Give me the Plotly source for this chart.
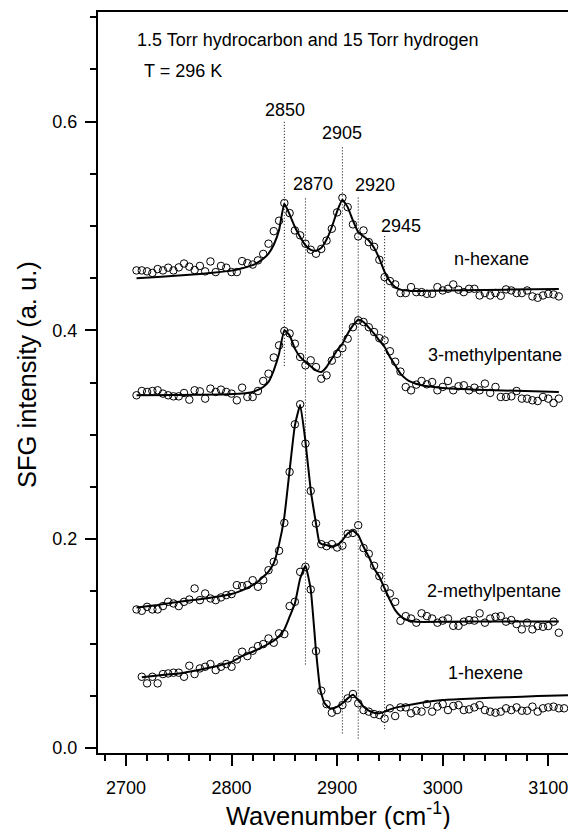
import plotly.graph_objects as go

# Sampled wavenumbers (cm^-1); 1-hexene is offset by one step
wavenumber = [2710, 2715, 2720, 2725, 2730, 2735, 2740, 2745, 2750, 2755,
              2760, 2765, 2770, 2775, 2780, 2785, 2790, 2795, 2800, 2805,
              2810, 2815, 2820, 2825, 2830, 2835, 2840, 2845, 2850, 2855,
              2860, 2865, 2870, 2875, 2880, 2885, 2890, 2895, 2900, 2905,
              2910, 2915, 2920, 2925, 2930, 2935, 2940, 2945, 2950, 2955,
              2960, 2965, 2970, 2975, 2980, 2985, 2990, 2995, 3000, 3005,
              3010, 3015, 3020, 3025, 3030, 3035, 3040, 3045, 3050, 3055,
              3060, 3065, 3070, 3075, 3080, 3085, 3090, 3095, 3100, 3105,
              3110, 3115]

nhexane_y = [0.4574, 0.4574, 0.4565, 0.4550, 0.4587, 0.4574, 0.4600, 0.4574, 0.4603, 0.4640,
             0.4610, 0.4578, 0.4617, 0.4565, 0.4660, 0.4558, 0.4617, 0.4600, 0.4558, 0.4558,
             0.4663, 0.4644, 0.4630, 0.4670, 0.4732, 0.4830, 0.4950, 0.5050, 0.5219, 0.5123,
             0.4957, 0.4910, 0.4830, 0.4772, 0.4734, 0.4780, 0.4860, 0.4973, 0.5130, 0.5270,
             0.5180, 0.5015, 0.4900, 0.4957, 0.4845, 0.4800, 0.4676, 0.4510, 0.4472, 0.4440,
             0.4357, 0.4357, 0.4414, 0.4366, 0.4366, 0.4350, 0.4350, 0.4414, 0.4382, 0.4398,
             0.4440, 0.4389, 0.4366, 0.4398, 0.4398, 0.4334, 0.4357, 0.4334, 0.4357, 0.4331,
             0.4392, 0.4382, 0.4357, 0.4357, 0.4382, 0.4325, 0.4312, 0.4334, 0.4350, 0.4344,
             0.4325]

methylpentane3_y = [0.3378, 0.3419, 0.3410, 0.3419, 0.3426, 0.3394, 0.3378, 0.3368, 0.3368, 0.3400,
                    0.3336, 0.3426, 0.3416, 0.3346, 0.3442, 0.3410, 0.3432, 0.3410, 0.3394, 0.3330,
                    0.3451, 0.3362, 0.3362, 0.3419, 0.3515, 0.3585, 0.3740, 0.3856, 0.3994, 0.3970,
                    0.3872, 0.3745, 0.3665, 0.3713, 0.3649, 0.3537, 0.3569, 0.3710, 0.3775, 0.3830,
                    0.3920, 0.4030, 0.4096, 0.4080, 0.4030, 0.3984, 0.3925, 0.3904, 0.3800, 0.3700,
                    0.3605, 0.3457, 0.3425, 0.3480, 0.3515, 0.3483, 0.3505, 0.3426, 0.3458, 0.3515,
                    0.3426, 0.3464, 0.3474, 0.3426, 0.3451, 0.3426, 0.3490, 0.3401, 0.3458, 0.3362,
                    0.3362, 0.3368, 0.3419, 0.3346, 0.3346, 0.3330, 0.3323, 0.3362, 0.3346, 0.3304,
                    0.3346]

methylpentane2_y = [0.1327, 0.1314, 0.1352, 0.1327, 0.1327, 0.1359, 0.1400, 0.1384, 0.1359, 0.1400,
                    0.1422, 0.1528, 0.1416, 0.1480, 0.1432, 0.1416, 0.1442, 0.1464, 0.1474, 0.1560,
                    0.1550, 0.1560, 0.1607, 0.1544, 0.1607, 0.1703, 0.1783, 0.1889, 0.2156, 0.2644,
                    0.3100, 0.3292, 0.2915, 0.2462, 0.2150, 0.1952, 0.1933, 0.1952, 0.1920, 0.1938,
                    0.2052, 0.2060, 0.2134, 0.1915, 0.1860, 0.1745, 0.1646, 0.1533, 0.1480, 0.1400,
                    0.1218, 0.1263, 0.1240, 0.1200, 0.1290, 0.1263, 0.1240, 0.1200, 0.1220, 0.1240,
                    0.1170, 0.1170, 0.1210, 0.1225, 0.1220, 0.1290, 0.1200, 0.1240, 0.1257, 0.1263,
                    0.1210, 0.1225, 0.1187, 0.1136, 0.1200, 0.1136, 0.1168, 0.1161, 0.1168, 0.1210,
                    0.1104]

hexene1_y = [0.0682, 0.0619, 0.0682, 0.0619, 0.0708, 0.0714, 0.0721, 0.0721, 0.0682, 0.0788,
             0.0708, 0.0762, 0.0778, 0.0804, 0.0746, 0.0778, 0.0804, 0.0778, 0.0848, 0.0922,
             0.0880, 0.0931, 0.0976, 0.0995, 0.1049, 0.1008, 0.1098, 0.1091, 0.1359, 0.1400,
             0.1687, 0.1735, 0.1518, 0.0928, 0.0548, 0.0420, 0.0338, 0.0363, 0.0411, 0.0475,
             0.0517, 0.0428, 0.0363, 0.0348, 0.0325, 0.0316, 0.0281, 0.0380, 0.0306, 0.0389,
             0.0389, 0.0332, 0.0357, 0.0348, 0.0420, 0.0348, 0.0396, 0.0420, 0.0363, 0.0402,
             0.0411, 0.0363, 0.0370, 0.0389, 0.0411, 0.0363, 0.0348, 0.0338, 0.0348, 0.0380,
             0.0363, 0.0389, 0.0357, 0.0357, 0.0396, 0.0348, 0.0380, 0.0389, 0.0396, 0.0380,
             0.0380]

# Fitted curves
nhexane_fit_x = [2710, 2730, 2750, 2770, 2790, 2800, 2810, 2820, 2825, 2830, 2835, 2840, 2845,
                 2850, 2855, 2860, 2865, 2870, 2875, 2880, 2885, 2890, 2895, 2900, 2905, 2910,
                 2915, 2920, 2925, 2930, 2935, 2940, 2945, 2950, 2955, 2960, 2970, 2990, 3020,
                 3060, 3110]
nhexane_fit_y = [0.4500, 0.4512, 0.4525, 0.4540, 0.4560, 0.4572, 0.4595, 0.4625, 0.4650, 0.4685,
                 0.4735, 0.4820, 0.4960, 0.5215, 0.5110, 0.4990, 0.4895, 0.4815, 0.4770, 0.4760,
                 0.4790, 0.4870, 0.4990, 0.5140, 0.5250, 0.5180, 0.5050, 0.4940, 0.4900, 0.4861,
                 0.4790, 0.4687, 0.4559, 0.4470, 0.4414, 0.4390, 0.4378, 0.4380, 0.4385, 0.4390,
                 0.4395]

methylpentane3_fit_x = [2710, 2750, 2790, 2810, 2820, 2825, 2830, 2835, 2840, 2845, 2850, 2855,
                        2860, 2865, 2870, 2875, 2880, 2885, 2890, 2895, 2900, 2905, 2910, 2915,
                        2920, 2925, 2930, 2935, 2940, 2945, 2950, 2955, 2960, 2965, 2970, 2980,
                        3000, 3050, 3110]
methylpentane3_fit_y = [0.3378, 0.3380, 0.3385, 0.3395, 0.3410, 0.3430, 0.3458, 0.3506, 0.3617,
                        0.3777, 0.4000, 0.3952, 0.3825, 0.3745, 0.3697, 0.3656, 0.3617, 0.3601,
                        0.3649, 0.3728, 0.3809, 0.3872, 0.3968, 0.4048, 0.4102, 0.4080, 0.4026,
                        0.3968, 0.3904, 0.3841, 0.3745, 0.3665, 0.3585, 0.3537, 0.3506, 0.3474,
                        0.3449, 0.3426, 0.3410]

methylpentane2_fit_x = [2710, 2730, 2750, 2770, 2790, 2800, 2810, 2820, 2825, 2830, 2835, 2840,
                        2845, 2850, 2855, 2860, 2865, 2870, 2875, 2880, 2883, 2885, 2890, 2895,
                        2900, 2905, 2910, 2915, 2920, 2925, 2930, 2935, 2940, 2945, 2950, 2955,
                        2960, 2965, 2975, 3000, 3050, 3110]
methylpentane2_fit_y = [0.1345, 0.1370, 0.1400, 0.1425, 0.1455, 0.1475, 0.1510, 0.1560, 0.1595,
                        0.1640, 0.1690, 0.1770, 0.1950, 0.2214, 0.2660, 0.3090, 0.3285, 0.2935,
                        0.2470, 0.2150, 0.1975, 0.1955, 0.1943, 0.1933, 0.1943, 0.1990, 0.2054,
                        0.2080, 0.2038, 0.1927, 0.1831, 0.1719, 0.1640, 0.1528, 0.1416, 0.1320,
                        0.1263, 0.1231, 0.1209, 0.1209, 0.1212, 0.1212]

hexene1_fit_x = [2715, 2730, 2750, 2770, 2790, 2800, 2810, 2820, 2830, 2840, 2845, 2850, 2855,
                 2860, 2865, 2870, 2875, 2880, 2884, 2888, 2893, 2898, 2905, 2910, 2915, 2920,
                 2925, 2930, 2935, 2940, 2945, 2950, 2960, 2980, 3000, 3030, 3060, 3090, 3125]
hexene1_fit_y = [0.0677, 0.0695, 0.0714, 0.0750, 0.0794, 0.0825, 0.0880, 0.0922, 0.0970, 0.1027,
                 0.1070, 0.1135, 0.1257, 0.1384, 0.1624, 0.1745, 0.1520, 0.0930, 0.0560, 0.0430,
                 0.0380, 0.0385, 0.0428, 0.0475, 0.0510, 0.0460, 0.0396, 0.0357, 0.0338, 0.0332,
                 0.0348, 0.0370, 0.0396, 0.0434, 0.0460, 0.0475, 0.0485, 0.0498, 0.0507]

# Marked vibrational modes (dotted guides) and their label anchors
peak_positions = [2850, 2870, 2905, 2920, 2945]
peak_line_top = [0.600, 0.528, 0.576, 0.529, 0.491]
peak_line_bottom = [0.366, 0.080, 0.014, 0.009, 0.018]
peak_label_x = [2851, 2877, 2904.6, 2935.6, 2960.4]
peak_label_y = [0.611, 0.540, 0.589, 0.539, 0.500]

series_names = ["n-hexane", "3-methylpentane", "2-methylpentane", "1-hexene"]
series_label_x = [3046.5, 3049.6, 3048.2, 3040.9]
series_label_y = [0.468, 0.376, 0.150, 0.0718]

FONT = "Liberation Sans, Arial, Helvetica, sans-serif"

fig = go.Figure()

# dotted guide lines
for wn, top, bottom in zip(peak_positions, peak_line_top, peak_line_bottom):
    fig.add_trace(go.Scatter(
        x=[wn, wn], y=[bottom, top], mode="lines",
        line=dict(color="black", width=1, dash="1px,2px"),
        showlegend=False, hoverinfo="skip"))

series = [
    (wavenumber[:81], nhexane_y, nhexane_fit_x, nhexane_fit_y),
    (wavenumber[:81], methylpentane3_y, methylpentane3_fit_x, methylpentane3_fit_y),
    (wavenumber[:81], methylpentane2_y, methylpentane2_fit_x, methylpentane2_fit_y),
    (wavenumber[1:], hexene1_y, hexene1_fit_x, hexene1_fit_y),
]

for (xs, ys, fx, fy), name in zip(series, series_names):
    fig.add_trace(go.Scatter(
        x=xs, y=ys, mode="markers", name=name,
        marker=dict(symbol="circle-open", size=7.5, color="black",
                    line=dict(width=1, color="black")),
        showlegend=False))
    fig.add_trace(go.Scatter(
        x=fx, y=fy, mode="lines", name=name + " fit",
        line=dict(color="black", width=2, shape="spline", smoothing=0.4),
        showlegend=False))

LABEL_SIZE = 18
annotations = []
for wn, lx, ly in zip(peak_positions, peak_label_x, peak_label_y):
    annotations.append(dict(x=lx, y=ly, xref="x", yref="y", text=str(wn),
                            showarrow=False, font=dict(size=LABEL_SIZE, color="black", family=FONT),
                            xanchor="center", yanchor="middle"))
for name, lx, ly in zip(series_names, series_label_x, series_label_y):
    annotations.append(dict(x=lx, y=ly, xref="x", yref="y", text=name,
                            showarrow=False, font=dict(size=LABEL_SIZE, color="black", family=FONT),
                            xanchor="center", yanchor="middle"))

annotations.append(dict(x=2708.3, y=0.678, xref="x", yref="y",
                        text="1.5 Torr hydrocarbon and 15 Torr hydrogen",
                        showarrow=False, font=dict(size=LABEL_SIZE, color="black", family=FONT),
                        xanchor="left", yanchor="middle"))
annotations.append(dict(x=2715.2, y=0.6485, xref="x", yref="y",
                        text="T = 296 K",
                        showarrow=False, font=dict(size=LABEL_SIZE, color="black", family=FONT),
                        xanchor="left", yanchor="middle"))

# axis titles
annotations.append(dict(x=(338 - 98) / 470, y=(753 - 832) / 741, xref="paper", yref="paper",
                        text="Wavenumber (cm<sup>-1</sup>)", showarrow=False,
                        font=dict(size=25.5, color="black", family=FONT),
                        xanchor="center", yanchor="bottom"))
annotations.append(dict(x=(27 - 98) / 470, y=(753 - 375) / 741, xref="paper", yref="paper",
                        text="SFG intensity (a. u.)", showarrow=False, textangle=-90,
                        font=dict(size=25.5, color="black", family=FONT),
                        xanchor="center", yanchor="middle"))

fig.update_layout(
    width=568, height=829,
    margin=dict(l=98, r=0, t=12, b=76),
    paper_bgcolor="white", plot_bgcolor="white",
    font=dict(family=FONT, color="black"),
    annotations=annotations,
    showlegend=False,
)

fig.update_xaxes(
    range=[2673.5, 3118.7],
    tickvals=[2700, 2800, 2900, 3000, 3100],
    ticks="outside", ticklen=11, tickwidth=1.5, tickcolor="black",
    minor=dict(dtick=20, tick0=2680, ticks="outside", ticklen=6, tickwidth=1.5, tickcolor="black"),
    showline=True, linewidth=2, linecolor="black", mirror=True,
    showgrid=False, zeroline=False,
    tickfont=dict(size=18, color="black", family=FONT),
    ticklabelstandoff=6,
    ticklabeloverflow="allow",
)
fig.update_yaxes(
    range=[-0.0048, 0.7049],
    tickvals=[0.0, 0.2, 0.4, 0.6], tickformat=".1f",
    ticks="outside", ticklen=11, tickwidth=1.5, tickcolor="black",
    minor=dict(dtick=0.05, tick0=0, ticks="outside", ticklen=6, tickwidth=1.5, tickcolor="black"),
    showline=True, linewidth=2, linecolor="black", mirror=False,
    showgrid=False, zeroline=False,
    tickfont=dict(size=18, color="black", family=FONT),
    ticklabelstandoff=4,
)

fig.write_html("out.html")
